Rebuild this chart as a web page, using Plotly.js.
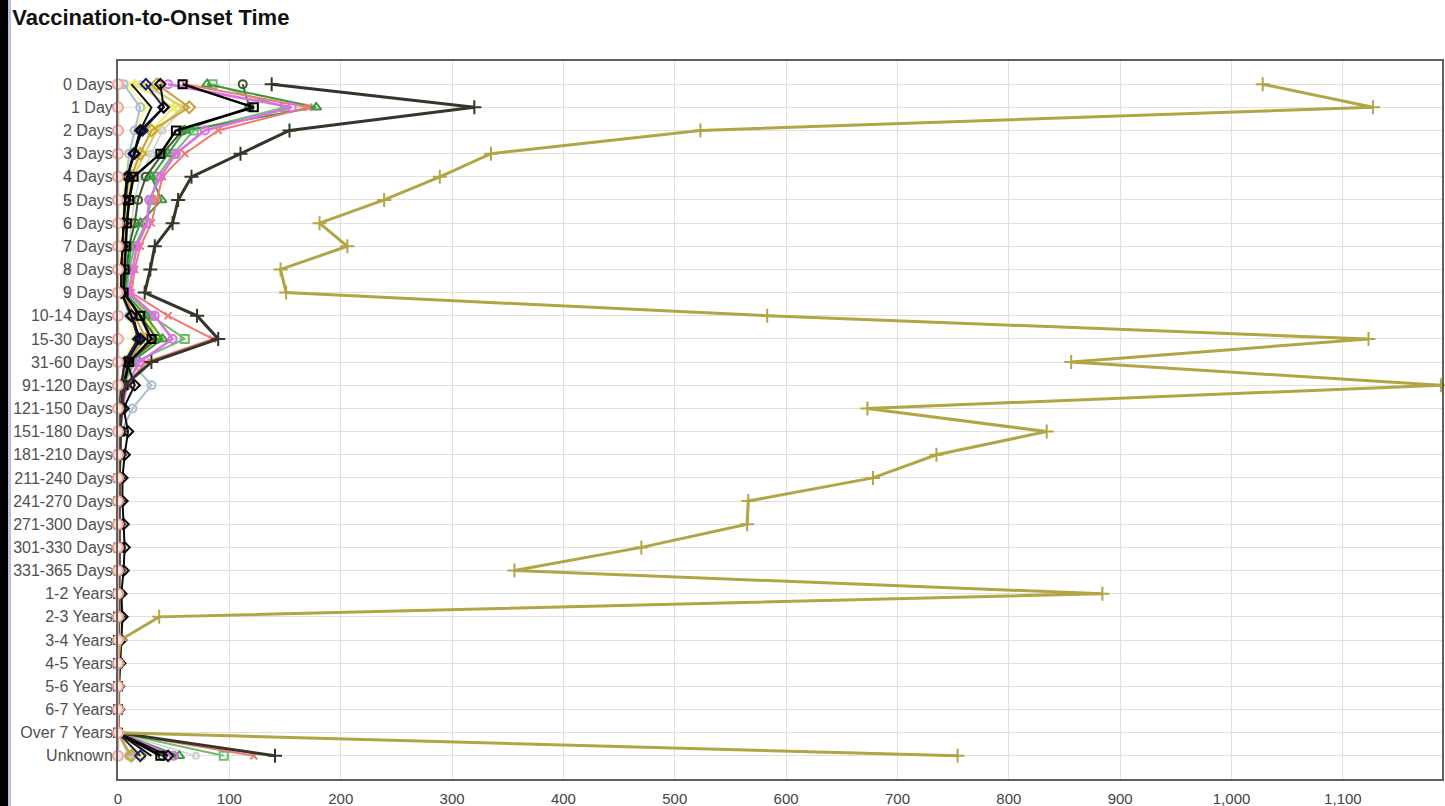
<!DOCTYPE html>
<html>
<head>
<meta charset="utf-8">
<script src="https://cdn.plot.ly/plotly-3.0.1.min.js"></script>
<style>
html,body{margin:0;padding:0;background:#fff;}
#chart{width:1445px;height:806px;}
#strip1{position:absolute;left:0;top:0;width:8px;height:806px;background:#000;z-index:5;}
#strip2{position:absolute;left:8px;top:0;width:3px;height:806px;background:#b9bfe0;z-index:5;}
</style>
</head>
<body>
<div id="strip1"></div><div id="strip2"></div>
<div id="chart"></div>
<script>
const categories = ['0 Days','1 Day','2 Days','3 Days','4 Days','5 Days','6 Days','7 Days','8 Days','9 Days','10-14 Days','15-30 Days','31-60 Days','91-120 Days','121-150 Days','151-180 Days','181-210 Days','211-240 Days','241-270 Days','271-300 Days','301-330 Days','331-365 Days','1-2 Years','2-3 Years','3-4 Years','4-5 Years','5-6 Years','6-7 Years','Over 7 Years','Unknown'];

const xTicks = [0,100,200,300,400,500,600,700,800,900,1000,1100];

const lightGray   = [20,60,40,30,20,15,12,10,8,6,18,30,10,4,2,1,1,0,0,0,0,0,0,0,0,0,0,0,0,70];
const paleYellow  = [8,25,15,10,6,5,4,3,2,2,10,15,5,2,1,0,0,0,0,0,0,0,0,0,0,0,0,0,0,18];
const yellowA     = [15,50,30,20,10,8,6,5,4,3,22,38,8,3,1,1,0,0,0,0,0,0,0,0,0,0,0,0,0,22];
const yellowB     = [25,58,35,24,14,10,7,6,5,4,28,32,10,4,2,1,0,0,0,0,0,0,0,0,0,0,0,0,0,10];
const blackThin   = [12,30,20,14,8,6,5,4,3,3,14,18,6,3,2,1,1,1,0,0,0,0,0,0,0,0,0,0,0,30];
const blueGray    = [5,20,15,10,8,6,5,4,3,3,10,20,12,30,13,3,2,1,1,0,0,0,0,0,0,0,0,0,0,10];
const orangeDia   = [35,64,30,20,12,10,8,6,5,4,15,25,8,3,1,1,0,0,0,0,0,0,0,0,0,0,0,0,0,12];
const navyDia     = [25,41,22,14,9,7,5,4,3,3,12,18,6,3,1,1,0,0,0,0,0,0,0,0,0,0,0,0,0,20];
const oliveCirc   = [112,118,58,40,25,18,15,10,8,6,20,35,10,4,2,1,1,0,0,0,0,0,0,0,0,0,0,0,0,40];
const greenSquare = [85,150,68,50,35,30,25,15,10,8,30,60,15,5,2,1,1,0,0,0,0,0,0,0,0,0,0,0,0,95];
const greenTri    = [80,178,60,45,30,39,20,12,9,6,25,40,12,5,2,1,1,0,0,0,0,0,0,0,0,0,0,0,0,55];
const salmon      = [60,171,90,60,40,35,30,20,15,12,45,85,25,8,3,2,1,1,0,0,0,0,0,0,0,0,0,0,0,122];
const violet      = [45,156,78,52,38,28,26,17,13,10,33,49,19,8,4,2,1,1,1,0,0,0,0,0,0,0,0,0,0,50];
const blackSquare = [58,122,52,38,14,10,8,7,6,5,20,30,10,5,3,2,1,1,1,1,1,1,0,0,0,0,0,0,0,38];
const blackDia    = [38,41,20,15,8,6,5,4,3,3,12,20,8,15,5,9,6,4,4,5,6,5,3,4,3,2,1,1,0,45];
const darkCross   = [138,320,154,110,66,54,49,33,29,24,71,90,30,6,3,2,2,1,1,1,1,1,1,1,0,0,0,0,0,141];
const goldCross   = [1028,1127,523,335,289,239,181,206,146,151,583,1123,856,1188,673,834,735,678,566,565,470,356,884,37,2,0,0,0,0,754];
const pinkZero    = [0,0,0,0,0,0,0,0,0,0,0,0,0,0,0,0,0,0,0,0,0,0,0,0,0,0,0,0,0,0];

function tr(vals, color, symbol, width, msize, mcolor, mline){
  const t = {
    type:'scatter', mode: symbol ? 'lines+markers' : 'lines',
    x: vals, y: categories, cliponaxis:false,
    line:{color:color, width:width},
    hoverinfo:'x+y', showlegend:false
  };
  if (symbol) t.marker = {symbol:symbol, size:msize, color:mcolor||color, line:{color:mline||color, width:2}};
  return t;
}

const data = [
  tr(lightGray,'#cfcfcf','circle-open',1.5,6),
  tr(paleYellow,'#fbfb9c','diamond-open',2,6),
  tr(yellowA,'#eeee66','star-open',2,7),
  tr(yellowB,'#d9d060','x-thin-open',2,6),
  tr(blackThin,'#111111',null,2),
  tr(blueGray,'#a9bdd3','circle-open',2,8),
  tr(orangeDia,'#c9a33a','diamond-open',2,9),
  tr(navyDia,'#1c1c6e','diamond-open',2,8),
  tr(oliveCirc,'#3d5a2c','circle-open',2,8),
  tr(greenSquare,'#6cc06c','square-open',2,8),
  tr(greenTri,'#3f9a3f','triangle-up-open',2,9),
  tr(salmon,'#ef7a74','x-thin-open',2,7),
  tr(violet,'#e26ee6','circle-open',2.5,8),
  tr(blackSquare,'#000000','square-open',2.5,8),
  tr(blackDia,'#0a0a0a','diamond-open',2,8),
  tr(darkCross,'#35352a','cross-thin-open',3,10),
  tr(goldCross,'#b3a545','cross-thin-open',3,10),
  tr(pinkZero,'#f0a8a0','circle',2.5,10,'#fbe2de','#efa49c')
];

const layout = {
  width:1445, height:806,
  paper_bgcolor:'#ffffff', plot_bgcolor:'#ffffff',
  margin:{l:118, r:3, t:61, b:27, pad:0},
  title:{text:'<b>Vaccination-to-Onset Time</b>', x:0.0085, xanchor:'left', y:0.979, yanchor:'middle',
         font:{family:'Arial, Liberation Sans, sans-serif', size:22, color:'#111'}},
  font:{family:'Arial, Liberation Sans, sans-serif'},
  xaxis:{range:[0,1189], autorange:false, tickvals:xTicks, separatethousands:true, tickformat:',d',
         showgrid:true, gridcolor:'#e0e0e0', gridwidth:1, zeroline:false,
         showline:true, mirror:true, linecolor:'#606060', linewidth:2,
         ticks:'', ticklabelstandoff:5, tickfont:{size:15, color:'#444'}},
  yaxis:{type:'category', categoryarray:categories, categoryorder:'array', range:[30,-1], autorange:false,
         showgrid:true, gridcolor:'#e0e0e0', gridwidth:1, zeroline:false,
         showline:true, mirror:true, linecolor:'#606060', linewidth:2,
         ticks:'', ticklabelstandoff:0, tickfont:{size:16, color:'#505050'}},
  showlegend:false
};

Plotly.newPlot('chart', data, layout, {displayModeBar:false, staticPlot:true});
</script>
</body>
</html>
